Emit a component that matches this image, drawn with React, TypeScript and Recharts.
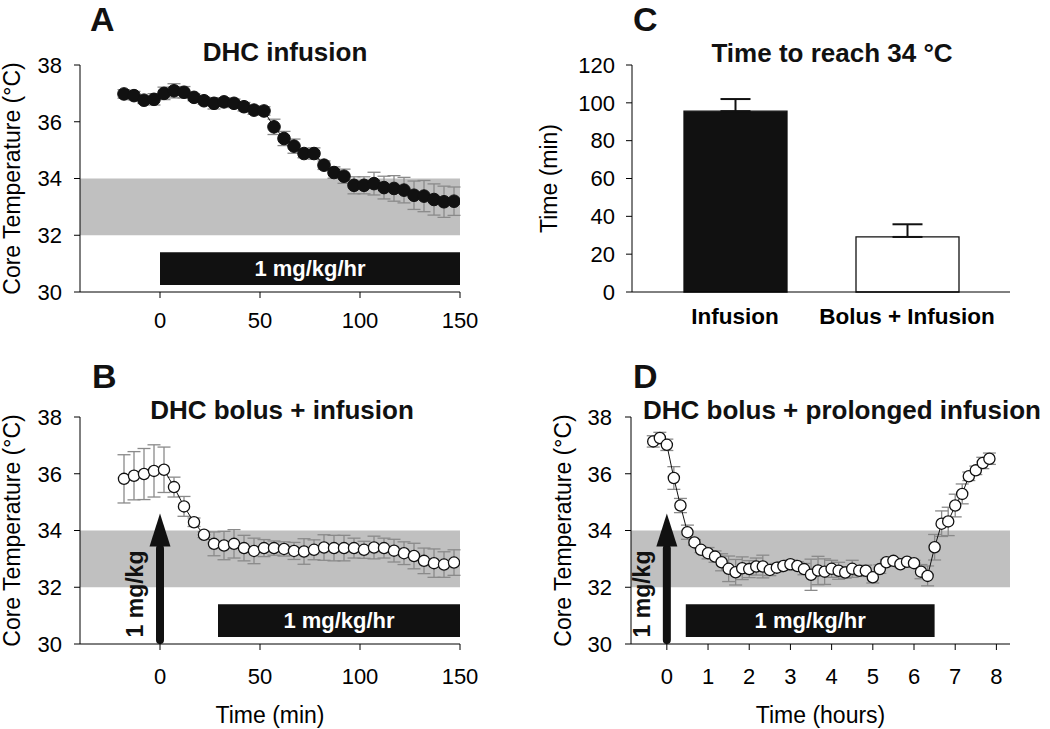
import {
  ComposedChart,
  Line,
  Bar,
  Cell,
  XAxis,
  YAxis,
  ErrorBar,
  ReferenceArea,
  ReferenceLine,
} from "recharts";

const FONT = '"Liberation Sans", Arial, Helvetica, sans-serif';

// Panel A: DHC infusion (min)
const infusionTime = [-18, -13, -8, -3, 2, 7, 12, 17, 22, 27, 32, 37, 42, 47, 52, 57, 62, 67, 72, 77, 82, 87, 92, 97, 102, 107, 112, 117, 122, 127, 132, 137, 142, 147];
const infusionTemp = [36.98, 36.92, 36.76, 36.79, 37.0, 37.09, 37.04, 36.86, 36.74, 36.65, 36.7, 36.65, 36.53, 36.41, 36.38, 35.82, 35.41, 35.14, 34.88, 34.88, 34.47, 34.21, 34.08, 33.76, 33.76, 33.82, 33.68, 33.65, 33.59, 33.41, 33.38, 33.26, 33.18, 33.2];
const infusionSem = [0.15, 0.15, 0.12, 0.2, 0.22, 0.25, 0.2, 0.12, 0.12, 0.2, 0.15, 0.15, 0.15, 0.15, 0.15, 0.27, 0.25, 0.25, 0.15, 0.2, 0.15, 0.2, 0.25, 0.3, 0.3, 0.4, 0.4, 0.45, 0.45, 0.5, 0.55, 0.55, 0.55, 0.5];

// Panel B: DHC bolus + infusion (min)
const bolusTime = [-18, -13, -8, -3, 2, 7, 12, 17, 22, 27, 32, 37, 42, 47, 52, 57, 62, 67, 72, 77, 82, 87, 92, 97, 102, 107, 112, 117, 122, 127, 132, 137, 142, 147];
const bolusTemp = [35.82, 35.93, 35.99, 36.1, 36.14, 35.53, 34.85, 34.29, 33.85, 33.53, 33.47, 33.53, 33.38, 33.28, 33.38, 33.38, 33.35, 33.28, 33.26, 33.32, 33.4, 33.38, 33.38, 33.38, 33.32, 33.4, 33.38, 33.29, 33.2, 33.1, 32.93, 32.85, 32.8, 32.87];
const bolusSem = [0.85, 0.85, 0.9, 0.92, 0.8, 0.35, 0.35, 0.15, 0.1, 0.42, 0.5, 0.5, 0.45, 0.45, 0.3, 0.25, 0.25, 0.3, 0.45, 0.35, 0.45, 0.45, 0.45, 0.35, 0.3, 0.4, 0.35, 0.4, 0.4, 0.45, 0.45, 0.5, 0.45, 0.45];

// Panel C: time to reach 34 °C
const groups = ["Infusion", "Bolus + Infusion"];
const reachTime = [95.6, 29.1];
const reachSem = [6.4, 6.7];
const barFills = ["#111111", "#ffffff"];

// Panel D: DHC bolus + prolonged infusion (hours)
const prolongedTime = [-0.33, -0.17, 0, 0.17, 0.33, 0.5, 0.67, 0.83, 1, 1.17, 1.33, 1.5, 1.67, 1.83, 2, 2.17, 2.33, 2.5, 2.67, 2.83, 3, 3.17, 3.33, 3.5, 3.67, 3.83, 4, 4.17, 4.33, 4.5, 4.67, 4.83, 5, 5.17, 5.33, 5.5, 5.67, 5.83, 6, 6.17, 6.33, 6.5, 6.67, 6.83, 7, 7.17, 7.33, 7.5, 7.67, 7.83];
const prolongedTemp = [37.14, 37.26, 37.02, 35.85, 34.88, 33.94, 33.58, 33.32, 33.2, 33.08, 32.88, 32.65, 32.53, 32.67, 32.64, 32.73, 32.73, 32.61, 32.69, 32.75, 32.81, 32.75, 32.64, 32.44, 32.59, 32.55, 32.65, 32.58, 32.52, 32.65, 32.58, 32.58, 32.35, 32.64, 32.88, 32.93, 32.81, 32.9, 32.85, 32.55, 32.4, 33.41, 34.24, 34.32, 34.88, 35.29, 35.91, 36.12, 36.38, 36.53];
const prolongedSem = [0.2, 0.2, 0.2, 0.4, 0.25, 0.25, 0.1, 0.1, 0.2, 0.2, 0.3, 0.45, 0.45, 0.4, 0.3, 0.3, 0.4, 0.2, 0.15, 0.15, 0.15, 0.15, 0.2, 0.55, 0.5, 0.45, 0.3, 0.3, 0.2, 0.3, 0.15, 0.2, 0.2, 0.15, 0.1, 0.1, 0.1, 0.1, 0.1, 0.25, 0.35, 0.45, 0.45, 0.5, 0.4, 0.35, 0.15, 0.15, 0.2, 0.2];

const tempTicks = [30, 32, 34, 36, 38];
const minuteTicks = [0, 50, 100, 150];
const hourTicks = [0, 1, 2, 3, 4, 5, 6, 7, 8];
const timeTicks = [0, 20, 40, 60, 80, 100, 120];

const toRows = (xs: number[], ys: number[], es: number[]) =>
  xs.map((x, i) => ({ x, y: ys[i], err: es[i] }));

const infusionRows = toRows(infusionTime, infusionTemp, infusionSem);
const bolusRows = toRows(bolusTime, bolusTemp, bolusSem);
const prolongedRows = toRows(prolongedTime, prolongedTemp, prolongedSem);
const reachRows = groups.map((g, i) => ({ group: g, value: reachTime[i], err: [0, reachSem[i]] }));

const tickStyle = { fill: "#000", fontSize: 22, fontFamily: FONT };
const axisLabel = (value: string, offset: number) => ({
  value,
  angle: -90,
  position: "insideLeft" as const,
  offset,
  textAnchor: "middle",
  fill: "#000",
  fontSize: 23,
  fontFamily: FONT,
});

const barLabel = {
  value: "1 mg/kg/hr",
  position: "center" as const,
  fill: "#fff",
  fontSize: 22,
  fontWeight: "bold",
  fontFamily: FONT,
};

// bolus arrow drawn from the reference segment's two ends
function BolusArrow(props: any) {
  const { x1, y1, y2 } = props;
  const headH = 33;
  const headW = 10.5;
  const base = y2 + headH;
  return (
    <g>
      <line x1={x1} y1={y1} x2={x1} y2={base + 2} stroke="#111" strokeWidth={8} strokeLinecap="round" />
      <polygon points={`${x1},${y2} ${x1 - headW},${base} ${x1 + headW},${base}`} fill="#111" />
      <text
        transform={`translate(${x1 - 17},${y1 - 46}) rotate(-90)`}
        textAnchor="middle"
        fontSize={23}
        fontWeight="bold"
        fontFamily={FONT}
        fill="#111"
      >
        1 mg/kg
      </text>
    </g>
  );
}

function TempChart({
  rows,
  filled,
  domain,
  ticks,
  barFrom,
  barTo,
  xLabel,
  withArrow,
  width,
  height,
  margin,
  yWidth,
  yLabelOffset,
  xHeight,
  xTickMargin,
  yTickMargin,
}: any) {
  return (
    <ComposedChart width={width} height={height} data={rows} margin={margin}>
      <ReferenceArea y1={32} y2={34} fill="#c0c0c0" fillOpacity={1} stroke="none" ifOverflow="hidden" />
      <ReferenceArea
        x1={barFrom}
        x2={barTo}
        y1={30.25}
        y2={31.4}
        fill="#111"
        fillOpacity={1}
        stroke="none"
        label={barLabel}
      />
      {withArrow && (
        <ReferenceLine
          segment={[
            { x: 0, y: 30.14 },
            { x: 0, y: 34.6 },
          ]}
          shape={BolusArrow}
          ifOverflow="visible"
        />
      )}
      <XAxis
        type="number"
        dataKey="x"
        domain={domain}
        ticks={ticks}
        allowDataOverflow
        stroke="#000"
        tickSize={6}
        tickMargin={xTickMargin}
        tick={tickStyle}
        height={xHeight}
        label={
          xLabel
            ? { value: xLabel, position: "insideBottom", offset: 0, fill: "#000", fontSize: 23, fontFamily: FONT }
            : undefined
        }
      />
      <YAxis
        type="number"
        domain={[30, 38]}
        ticks={tempTicks}
        allowDataOverflow
        stroke="#000"
        tickSize={6}
        tickMargin={yTickMargin}
        tick={tickStyle}
        width={yWidth}
        label={axisLabel("Core Temperature (°C)", yLabelOffset)}
      />
      <Line
        dataKey="y"
        stroke="#111"
        strokeWidth={1}
        dot={
          filled
            ? { r: 6.3, fill: "#111", stroke: "#111", strokeWidth: 1 }
            : { r: 5.6, fill: "#fff", stroke: "#111", strokeWidth: 1.3 }
        }
        activeDot={false}
        isAnimationActive={false}
      >
        <ErrorBar dataKey="err" direction="y" width={6.5} stroke="#8a8a8a" strokeWidth={1.3} />
      </Line>
    </ComposedChart>
  );
}

const titleStyle = { fontSize: 26, fontWeight: "bold" as const, fontFamily: FONT, fill: "#111" };
const letterStyle = { fontSize: 34, fontWeight: "bold" as const, fontFamily: FONT, fill: "#111" };

export default function App() {
  return (
    <div
      style={{
        position: "absolute",
        left: 0,
        top: 0,
        width: 1050,
        height: 729,
        background: "#fff",
        fontFamily: FONT,
        overflow: "hidden",
      }}
    >
      <div style={{ position: "absolute", left: 0, top: 0 }}>
        <TempChart
          rows={infusionRows}
          filled
          domain={[-40, 150]}
          ticks={minuteTicks}
          barFrom={0}
          barTo={150}
          width={525}
          height={360}
          margin={{ top: 65, right: 65, bottom: 28, left: 0 }}
          yWidth={80}
          yLabelOffset={12}
          xHeight={40}
          xTickMargin={14}
          yTickMargin={12}
        />
      </div>
      <div style={{ position: "absolute", left: 0, top: 360 }}>
        <TempChart
          rows={bolusRows}
          filled={false}
          domain={[-40, 150]}
          ticks={minuteTicks}
          barFrom={29}
          barTo={150}
          xLabel="Time (min)"
          withArrow
          width={525}
          height={369}
          margin={{ top: 57, right: 65, bottom: 6, left: 0 }}
          yWidth={80}
          yLabelOffset={12}
          xHeight={79}
          xTickMargin={18}
          yTickMargin={12}
        />
      </div>
      <div style={{ position: "absolute", left: 525, top: 360 }}>
        <TempChart
          rows={prolongedRows}
          filled={false}
          domain={[-0.87, 8.33]}
          ticks={hourTicks}
          barFrom={0.46}
          barTo={6.5}
          xLabel="Time (hours)"
          withArrow
          width={525}
          height={369}
          margin={{ top: 57, right: 40, bottom: 6, left: 0 }}
          yWidth={106}
          yLabelOffset={38}
          xHeight={79}
          xTickMargin={18}
          yTickMargin={13}
        />
      </div>
      <div style={{ position: "absolute", left: 525, top: 0 }}>
        <ComposedChart width={525} height={360} data={reachRows} margin={{ top: 65, right: 40, bottom: 18, left: 0 }}>
          <XAxis
            dataKey="group"
            type="category"
            padding={{ left: 17, right: 17 }}
            stroke="#000"
            tickLine={false}
            tickSize={0}
            tickMargin={16}
            height={50}
            tick={{ fill: "#000", fontSize: 22.5, fontWeight: "bold", fontFamily: FONT }}
          />
          <YAxis
            type="number"
            domain={[0, 120]}
            ticks={timeTicks}
            stroke="#000"
            tickSize={6}
            tickMargin={11}
            tick={tickStyle}
            width={107}
            label={axisLabel("Time (min)", 24)}
          />
          <Bar dataKey="value" barSize={103} stroke="#111" strokeWidth={1.3} isAnimationActive={false}>
            {reachRows.map((r, i) => (
              <Cell key={r.group} fill={barFills[i]} />
            ))}
            <ErrorBar dataKey="err" direction="y" width={15} stroke="#111" strokeWidth={2} />
          </Bar>
        </ComposedChart>
      </div>
      <svg
        width={1050}
        height={729}
        style={{ position: "absolute", left: 0, top: 0, pointerEvents: "none" }}
      >
        <text x={90} y={31} {...letterStyle}>A</text>
        <text x={633} y={31} {...letterStyle}>C</text>
        <text x={92} y={388} {...letterStyle}>B</text>
        <text x={633} y={388} {...letterStyle}>D</text>
        <text x={285} y={61} textAnchor="middle" {...titleStyle}>DHC infusion</text>
        <text x={832} y={62} textAnchor="middle" {...titleStyle}>Time to reach 34 °C</text>
        <text x={282} y={419} textAnchor="middle" {...titleStyle}>DHC bolus + infusion</text>
        <text x={643} y={419} {...titleStyle}>DHC bolus + prolonged infusion</text>
      </svg>
    </div>
  );
}
